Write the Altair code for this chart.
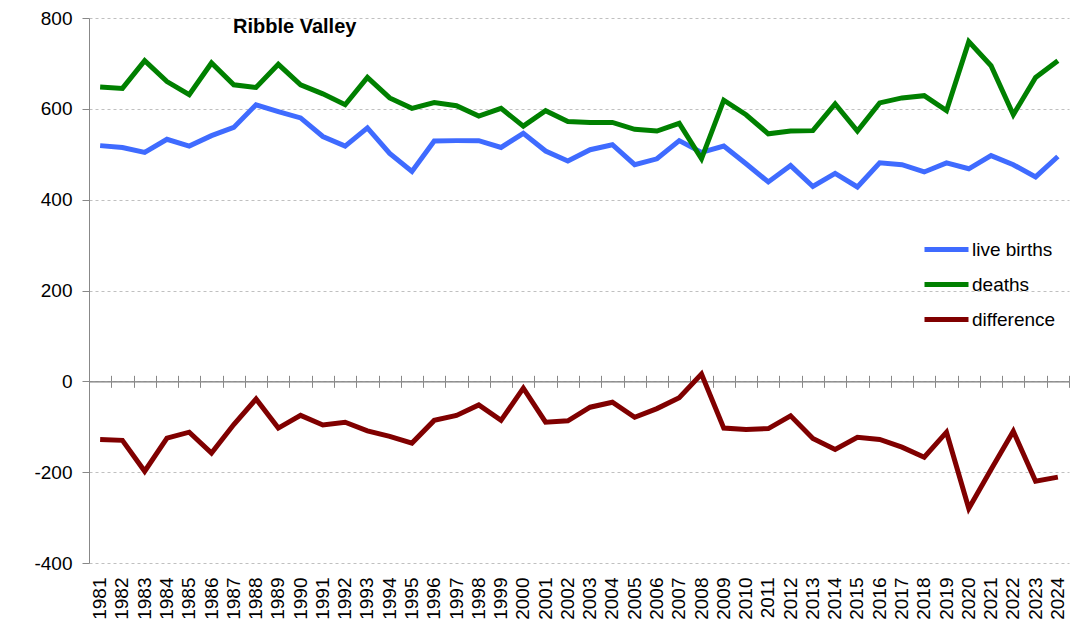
import altair as alt
import pandas as pd

years = list(range(1981, 2025))

live_births = [519, 515, 504, 533, 518, 541, 559, 609, 594, 580,
               539, 518, 558, 502, 462, 529, 530, 530, 515, 546,
               507, 485, 510, 521, 477, 490, 530, 504, 518, 479,
               439, 475, 429, 458, 428, 481, 477, 461, 481, 468,
               497, 477, 450, 495]

deaths = [648, 645, 706, 660, 631, 701, 653, 647, 698, 653,
          633, 609, 669, 624, 601, 614, 607, 584, 601, 562,
          596, 572, 570, 570, 555, 551, 568, 490, 619, 587,
          545, 551, 552, 611, 551, 613, 624, 629, 596, 748,
          695, 587, 669, 706]

difference = [-128, -130, -198, -125, -112, -158, -95, -39, -103, -75,
              -96, -90, -109, -121, -136, -86, -75, -52, -86, -15,
              -90, -87, -57, -46, -79, -60, -36, 16, -103, -106,
              -104, -76, -126, -150, -123, -128, -145, -167, -112, -280,
              -194, -110, -220, -211]

series_names = ["live births", "deaths", "difference"]
series_colors = ["#3F6BFF", "#008000", "#800000"]
y_ticks = [-400, -200, 0, 200, 400, 600, 800]

rows = []
for name, vals in zip(series_names, [live_births, deaths, difference]):
    for yr, v in zip(years, vals):
        rows.append({"year": str(yr), "series": name, "value": v})
df = pd.DataFrame(rows)
year_df = pd.DataFrame({"year": [str(y) for y in years]})

W, H = 980, 545
font = "Liberation Sans"
axis_grey = "#888888"

x_scale = alt.Scale(type="band", paddingInner=0, paddingOuter=0)

# lines, with year labels along the bottom of the plot
lines = alt.Chart(df).mark_line(strokeWidth=5).encode(
    x=alt.X("year:O", scale=x_scale, bandPosition=0.5, title=None,
            axis=alt.Axis(orient="bottom", labelAngle=-90, labelFontSize=19,
                          labelColor="black", labelPadding=14, ticks=False,
                          tickSize=0, domain=False, grid=False)),
    y=alt.Y("value:Q", title=None,
            scale=alt.Scale(domain=[-400, 800], nice=False, zero=False),
            axis=alt.Axis(values=y_ticks, labelFontSize=19, labelColor="black",
                          labelExpr="replace(datum.label, '\u2212', '-')",
                          labelPadding=10, tickSize=7, tickColor=axis_grey,
                          domainColor=axis_grey, gridColor="#c0c0c0",
                          gridDash=[3, 3], gridWidth=1)),
    color=alt.Color("series:N",
                    scale=alt.Scale(domain=series_names, range=series_colors),
                    sort=series_names,
                    legend=alt.Legend(title=None, orient="none", legendX=833,
                                      legendY=207, symbolType="stroke",
                                      symbolStrokeWidth=5, symbolSize=1936,
                                      labelFontSize=19, labelColor="black",
                                      labelOffset=1, rowPadding=-15, padding=0)),
    order=alt.Order("series:N"),
)

# zero line with ticks crossing it (upward half)
zero_up = alt.Chart(year_df).mark_point(opacity=0).encode(
    x=alt.X("year:O", scale=x_scale, title=None,
            axis=alt.Axis(orient="top", offset=-(H * 2 / 3), labels=False,
                          tickBand="extent", tickSize=6, tickColor=axis_grey,
                          domainColor=axis_grey, grid=False)),
)

# zero line with ticks crossing it (downward half)
zero_down = alt.Chart(year_df).mark_point(opacity=0).encode(
    x=alt.X("year:O", scale=x_scale, title=None,
            axis=alt.Axis(orient="bottom", offset=-(H / 3), labels=False,
                          tickBand="extent", tickSize=6, tickColor=axis_grey,
                          domainColor=axis_grey, grid=False)),
)

chart = alt.layer(lines, zero_up, zero_down).resolve_axis(
    x="independent"
).properties(
    width=W,
    height=H,
    autosize=alt.AutoSizeParams(type="none"),
    padding={"left": 81, "top": 10, "right": 5, "bottom": 58},
    title=alt.TitleParams("Ribble Valley", anchor="start", dx=144, offset=-28,
                          fontSize=20, fontWeight="bold", font=font,
                          color="black", frame="group"),
).configure(
    font=font,
).configure_view(
    stroke=None,
)

chart.save("out.html", embed_options={"renderer": "svg", "actions": False})
